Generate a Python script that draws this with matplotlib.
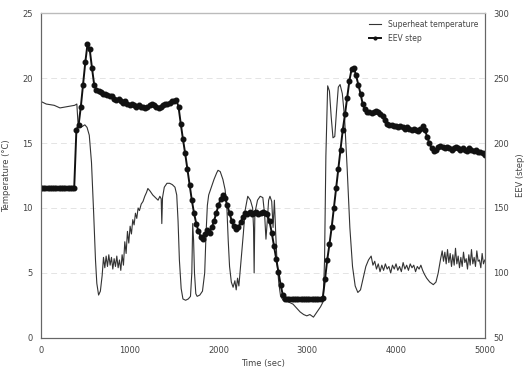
import numpy as np
import matplotlib
matplotlib.use("Agg")
import matplotlib.pyplot as plt

# Superheat temperature (left axis, deg C): (time s, value)
superheat_points = [
    (0, 18.2), (60, 18.0), (150, 17.9), (215, 17.7), (300, 17.8), (380, 17.9), (405, 18.0),
    (420, 16.3), (450, 16.2), (495, 16.4), (520, 16.2), (545, 15.6), (570, 13.5), (595, 9.5),
    (615, 6.0), (630, 4.2), (650, 3.3),
    (670, 3.6), (690, 4.8), (705, 6.2), (720, 5.4), (735, 6.3), (750, 5.5), (765, 6.4),
    (780, 5.6), (795, 6.2), (810, 5.3), (825, 6.1), (840, 5.5), (855, 6.3), (870, 5.4),
    (885, 6.0), (900, 5.2), (915, 6.4),
    (930, 5.6), (945, 7.4), (960, 6.5), (975, 8.2), (990, 7.3), (1005, 8.6), (1020, 8.0),
    (1035, 9.1), (1050, 8.7), (1065, 9.6), (1080, 9.2), (1095, 10.0), (1110, 9.8),
    (1130, 10.3), (1150, 10.5),
    (1170, 10.9), (1190, 11.2), (1205, 11.5), (1230, 11.3), (1260, 11.0), (1290, 10.8),
    (1320, 10.6), (1340, 10.9), (1355, 10.7), (1362, 8.8), (1370, 10.8), (1390, 11.6),
    (1420, 11.9), (1450, 11.9),
    (1480, 11.8), (1510, 11.6), (1530, 11.0), (1545, 9.0), (1560, 6.0), (1580, 3.8),
    (1600, 3.0), (1630, 2.9), (1660, 3.0), (1685, 3.2), (1700, 5.0), (1710, 8.8),
    (1720, 7.5), (1730, 5.0),
    (1745, 3.4), (1760, 3.2), (1790, 3.3), (1820, 3.6), (1845, 5.0), (1860, 8.0),
    (1875, 10.2), (1890, 11.0), (1920, 11.6), (1950, 12.2), (1980, 12.7), (1995, 12.9),
    (2020, 12.8), (2050, 12.2),
    (2075, 11.4), (2095, 10.0), (2110, 7.5), (2125, 5.5), (2145, 4.3), (2165, 3.9),
    (2185, 4.4), (2200, 3.7), (2215, 4.6), (2230, 4.0), (2245, 5.2), (2260, 6.5),
    (2280, 8.0), (2300, 9.8),
    (2330, 10.9), (2360, 10.6), (2385, 10.0), (2395, 8.5), (2402, 5.0), (2410, 9.6),
    (2440, 10.6), (2470, 10.9), (2500, 10.8), (2520, 9.5), (2535, 7.6), (2550, 9.0),
    (2565, 10.6), (2580, 10.9),
    (2600, 10.5), (2615, 8.5), (2630, 10.6), (2645, 8.0), (2660, 5.8), (2680, 4.2),
    (2700, 3.2), (2730, 2.9), (2780, 2.8), (2840, 2.6), (2880, 2.3), (2920, 2.0),
    (2960, 1.8), (2995, 1.7),
    (3030, 1.8), (3070, 1.6), (3110, 2.0), (3150, 2.4), (3180, 2.8), (3195, 6.0),
    (3210, 14.0), (3230, 19.4), (3250, 19.0), (3270, 17.0), (3290, 15.4), (3310, 15.5),
    (3330, 17.5), (3350, 19.3),
    (3370, 19.5), (3395, 18.8), (3420, 17.0), (3450, 13.0), (3480, 8.5), (3510, 5.5),
    (3540, 4.0), (3570, 3.5), (3600, 3.7), (3630, 4.6), (3660, 5.5), (3690, 6.0),
    (3720, 6.3), (3740, 5.6),
    (3760, 5.9), (3780, 5.3), (3800, 5.7), (3820, 5.1), (3840, 5.6), (3860, 5.2),
    (3880, 5.7), (3900, 5.3), (3920, 5.5), (3940, 5.0), (3960, 5.6), (3980, 5.3),
    (4000, 5.7), (4020, 5.2), (4040, 5.5), (4060, 5.1), (4080, 5.8), (4100, 5.3),
    (4120, 5.6), (4140, 5.2), (4160, 5.7), (4180, 5.4), (4200, 5.6), (4220, 5.1),
    (4240, 5.5), (4260, 5.3), (4280, 5.6), (4300, 5.2),
    (4320, 4.9), (4345, 4.6), (4380, 4.3), (4420, 4.1), (4450, 4.3), (4475, 5.0),
    (4500, 6.0), (4520, 6.7), (4535, 5.9), (4550, 6.6), (4565, 5.7), (4580, 6.8),
    (4595, 5.8), (4610, 6.5),
    (4625, 5.5), (4640, 6.4), (4655, 5.6), (4670, 6.9), (4685, 5.7), (4700, 6.3),
    (4715, 5.4), (4730, 6.2), (4745, 5.5), (4760, 6.6), (4775, 5.8), (4790, 6.1),
    (4805, 5.3), (4820, 6.4), (4835, 5.6), (4850, 6.8), (4865, 5.7), (4880, 6.2),
    (4895, 5.5), (4910, 6.7), (4925, 5.9), (4940, 6.0), (4955, 5.4), (4970, 6.5),
    (4985, 5.7), (5000, 6.0),
]
sh_time = [p[0] for p in superheat_points]
sh_temp = [p[1] for p in superheat_points]

# EEV step (right axis), one value every 25 s from 0 to 5000 s
eev_dt = 25
eev_step = [
    165, 165, 165, 165, 165, 165, 165, 165,
    165, 165, 165, 165, 165, 165, 165, 165,
    210, 214, 228, 245, 262, 276, 272, 258,
    245, 241, 240, 239, 238, 238, 237, 236,
    236, 234, 233, 234, 232, 231, 232, 230,
    229, 230, 229, 228, 229, 228, 228, 227,
    228, 229, 230, 229, 228, 227, 228, 229,
    230, 230, 231, 232, 232, 233, 228, 215,
    203, 192, 180, 168, 156, 146, 138, 132,
    128, 126, 130, 133, 131, 135, 140, 146,
    152, 157, 160, 158, 152, 146, 140, 136,
    134, 135, 139, 143, 146, 145, 147, 145,
    146, 147, 145, 146, 147, 146, 145, 140,
    131, 121, 111, 101, 91, 83, 80, 80,
    80, 80, 80, 80, 80, 80, 80, 80,
    80, 80, 80, 80, 80, 80, 80, 81,
    95, 110, 122, 135, 150, 165, 180, 195,
    210, 222, 235, 248, 257, 258, 252, 245,
    238, 230, 226, 224, 224, 223, 224, 225,
    224, 222, 221, 218, 215, 214, 214, 213,
    213, 212, 213, 212, 211, 212, 211, 210,
    211, 210, 209, 211, 213, 210, 205, 200,
    196, 194, 195, 197, 198, 197, 196, 197,
    196, 195, 196, 197, 196, 195, 196, 195,
    194, 196, 195, 194, 195, 193, 193, 192,
    191]

x_ticks = [0, 1000, 2000, 3000, 4000, 5000]
left_ticks = [0, 5, 10, 15, 20, 25]
right_ticks = [50, 100, 150, 200, 250, 300]

eev_time = np.arange(len(eev_step)) * eev_dt

txt = "#444444"
fig = plt.figure(figsize=(5.31, 3.73), dpi=100)
ax = fig.add_axes([0.077, 0.094, 0.836, 0.871])
ax2 = ax.twinx()

for y in [5, 10, 15, 20]:
    ax.axhline(y, color="#e4e4e4", lw=0.7, ls=(0, (6, 4)), zorder=0)

l1, = ax.plot(sh_time, sh_temp, color="#333333", lw=0.8, label="Superheat temperature")
l2, = ax2.plot(eev_time, eev_step, color="#111111", lw=1.4, marker="o", ms=3.3,
               mec="#111111", mfc="#111111", label="EEV step")

ax.set_xlim(0, 5000)
ax.set_ylim(0, 25)
ax2.set_ylim(50, 300)
ax.set_xticks(x_ticks)
ax.set_yticks(left_ticks)
ax2.set_yticks(right_ticks)

for a in (ax, ax2):
    a.tick_params(length=0, labelsize=6, colors=txt, pad=6)
    for s in a.spines.values():
        s.set_color("#666666")
        s.set_linewidth(0.8)
ax2.spines["top"].set_color("#bbbbbb")

ax.set_xlabel("Time (sec)", fontsize=6, color=txt, labelpad=3)
ax.set_ylabel("Temperature (°C)", fontsize=6, color=txt, labelpad=8)
ax2.set_ylabel("EEV (step)", fontsize=6, color=txt, labelpad=5)

leg = ax2.legend([l1, l2], ["Superheat temperature", "EEV step"], loc="upper right",
                 fontsize=5.5, frameon=False, handlelength=1.6, borderaxespad=0.5,
                 labelspacing=0.6, markerscale=0.6)
for t in leg.get_texts():
    t.set_color(txt)

fig.savefig("out.png", dpi=100)
